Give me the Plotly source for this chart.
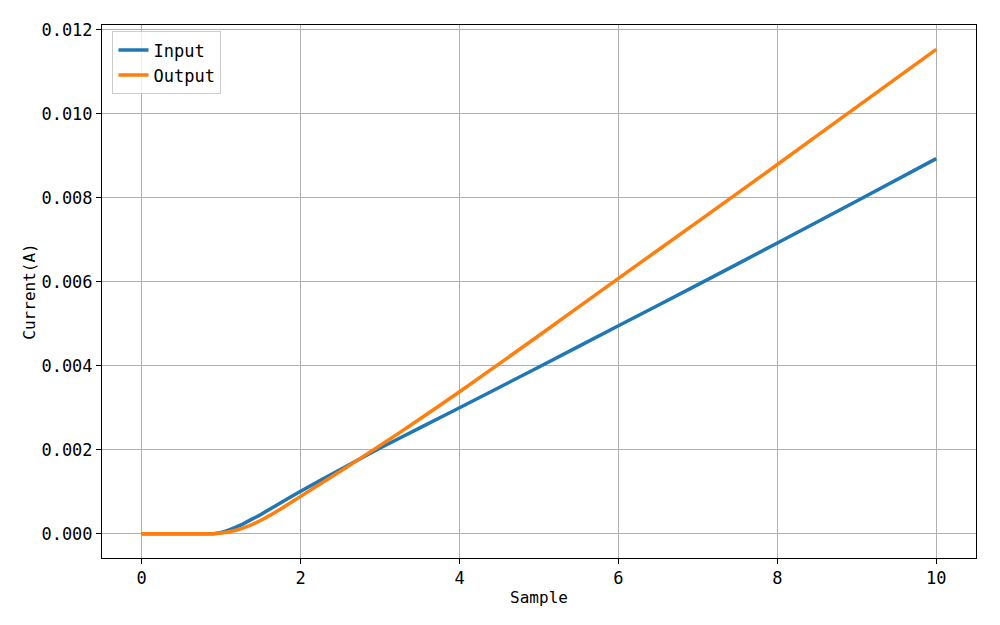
import plotly.graph_objects as go

sample = [0, 0.25, 0.5, 0.75, 0.9, 1.0, 1.1, 1.25, 1.4, 1.5, 1.75, 2, 2.5, 3, 3.5, 4, 5, 6, 7, 8, 9, 10]
input_current = [0, 0, 0, 0, 0, 0.00003, 0.00009, 0.00021, 0.00036, 0.00046, 0.00074, 0.00101, 0.00153,
                 0.00204, 0.00252, 0.00300, 0.00397, 0.00495, 0.00593, 0.00692, 0.00792, 0.00893]
output_current = [0, 0, 0, 0, 0, 0.00002, 0.00005, 0.00012, 0.00023, 0.00032, 0.00059, 0.00089, 0.00149,
                  0.00210, 0.00273, 0.00338, 0.00472, 0.00608, 0.00743, 0.00879, 0.01016, 0.01153]

FONT = "DejaVu Sans Mono"

fig = go.Figure()
fig.add_trace(go.Scatter(x=sample, y=input_current, mode="lines", name="Input",
                         line=dict(color="#1f77b4", width=3.5, shape="spline", smoothing=0.6)))
fig.add_trace(go.Scatter(x=sample, y=output_current, mode="lines", name="Output",
                         line=dict(color="#ff7f0e", width=3.5, shape="spline", smoothing=0.6)))

axis_common = dict(showline=True, linecolor="black", linewidth=1, mirror=True,
                   ticks="outside", ticklen=5, tickcolor="black",
                   showgrid=True, gridcolor="#b0b0b0", gridwidth=1, zeroline=False,
                   tickfont=dict(family=FONT, size=17, color="black"))

fig.update_xaxes(range=[-0.5, 10.5], dtick=2, tick0=0,
                 title=dict(text="Sample", font=dict(family=FONT, size=16, color="black"), standoff=4),
                 **axis_common)
fig.update_yaxes(range=[-0.000577, 0.01211], dtick=0.002, tick0=0, tickformat=".3f",
                 title=dict(text="Current(A)", font=dict(family=FONT, size=16, color="black"), standoff=1),
                 **axis_common)

fig.update_layout(
    width=1000, height=625,
    margin=dict(l=94, r=32, t=17, b=75),
    plot_bgcolor="white", paper_bgcolor="white",
    font=dict(family=FONT, size=16, color="black"),
    legend=dict(x=0.012, y=0.988, xanchor="left", yanchor="top",
                bgcolor="rgba(255,255,255,0.8)", bordercolor="#cccccc", borderwidth=1,
                tracegroupgap=2,
                font=dict(family=FONT, size=17, color="black")),
)

fig.write_html("out.html")
